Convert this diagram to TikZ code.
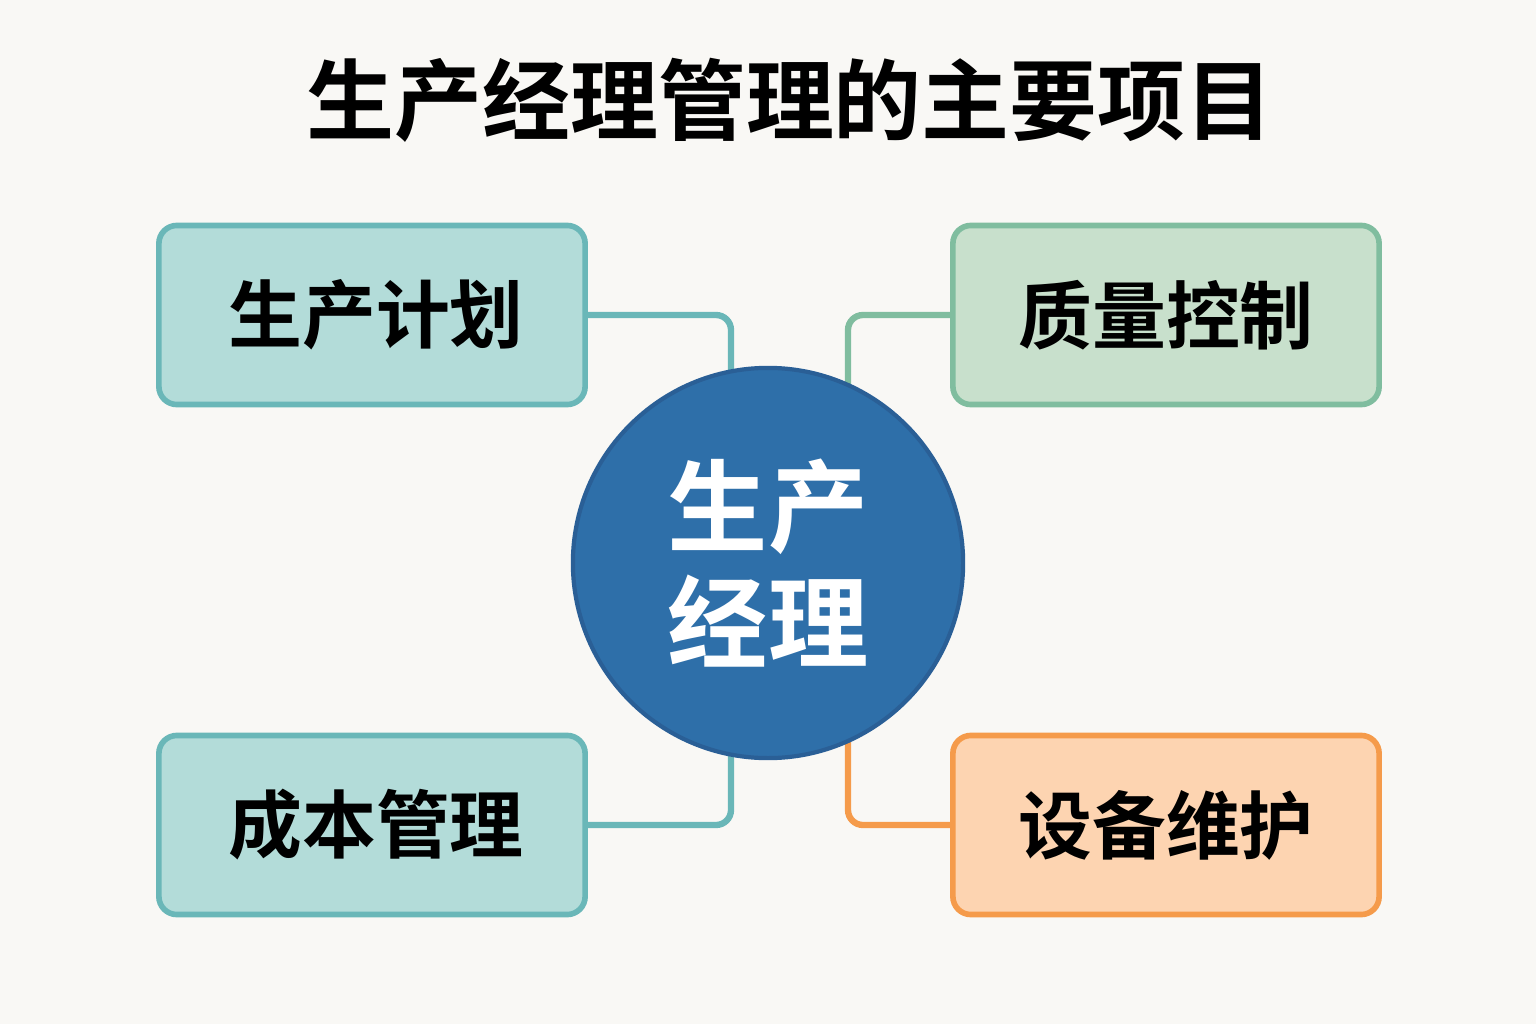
\documentclass[tikz,border=0pt]{standalone}
\usepackage{fontspec}
\usepackage{xcolor}
\usepackage{tikz}
\usetikzlibrary{calc,backgrounds}
\newfontfamily\cjk{Noto Sans CJK SC}[BoldFont=* Bold]
\definecolor{bgcol}{HTML}{F9F8F5}
\definecolor{tealfill}{HTML}{B3DCD9}
\definecolor{tealedge}{HTML}{6AB7B8}
\definecolor{greenfill}{HTML}{C8E0CC}
\definecolor{greenedge}{HTML}{80BD9F}
\definecolor{orangefill}{HTML}{FDD4B1}
\definecolor{orangeedge}{HTML}{F59B4B}
\definecolor{mgrfill}{HTML}{2E6FA9}
\definecolor{mgredge}{HTML}{2A5F96}
\tikzset{
  itembox/.style={draw,line width=1.6pt,rounded corners=0.18cm,minimum width=4.26cm,minimum height=1.79cm,font=\cjk\bfseries\fontsize{21}{25}\selectfont,text=black},
  tealbox/.style={itembox,fill=tealfill,draw=tealedge},
  greenbox/.style={itembox,fill=greenfill,draw=greenedge},
  orangebox/.style={itembox,fill=orangefill,draw=orangeedge},
  link/.style={line width=1.8pt,rounded corners=0.15cm},
}
\begin{document}
\begin{tikzpicture}[x=0.01cm,y=-0.01cm]
%\draw[help lines](0,0)grid[step=100](1536,1024);
\useasboundingbox (0,0) rectangle (1536,1024);
\node[font=\cjk\bfseries\fontsize{25}{30}\selectfont] (title) at (790,100) {生产经理管理的主要项目};

\node[tealbox] (plan) at (372,315) {\hspace*{0.08cm}生产计划};
\node[greenbox] (quality) at (1166,315) {质量控制};
\node[tealbox] (cost) at (372,825) {\hspace*{0.08cm}成本管理};
\node[orangebox] (equip) at (1166,825) {设备维护};

\node[circle,fill=mgrfill,draw=mgredge,line width=1.2pt,minimum size=3.9cm,text=white,
  align=center,font=\cjk\bfseries\fontsize{28.5}{33}\selectfont] (mgr) at (768,563) {生产\\经理};

\begin{scope}[on background layer]
\fill[bgcol](0,0)rectangle(1536,1024);
\draw[link,tealedge](plan.east)-|($(mgr.center)+(-37,0)$);
\draw[link,greenedge](quality.west)-|($(mgr.center)+(80,0)$);
\draw[link,tealedge](cost.east)-|($(mgr.center)+(-37,0)$);
\draw[link,orangeedge](equip.west)-|($(mgr.center)+(80,0)$);
\end{scope}
\end{tikzpicture}
\end{document}
